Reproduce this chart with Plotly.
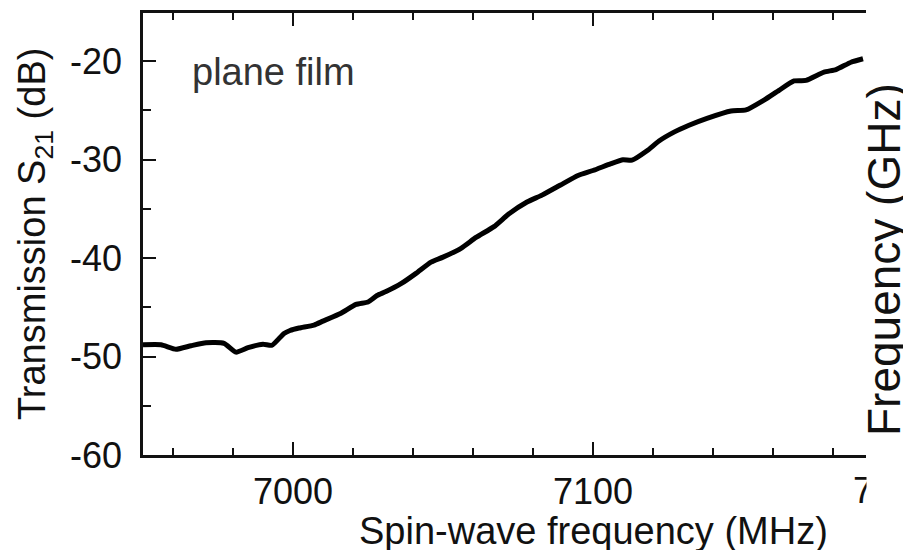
import plotly.graph_objects as go

# Spin-wave frequency (MHz)
freq = [6950, 6956, 6961, 6966, 6971, 6977, 6981, 6985, 6990, 6993, 6997, 6999,
        7002, 7007, 7010, 7016, 7021, 7025, 7028, 7031, 7036, 7041, 7046, 7050,
        7056, 7061, 7067, 7072, 7078, 7083, 7089, 7095, 7100, 7106, 7110, 7113,
        7118, 7122, 7127, 7132, 7138, 7146, 7151, 7157, 7162, 7167, 7171, 7177,
        7181, 7186, 7190]
# Transmission S21 (dB)
s21 = [-48.8, -48.8, -49.25, -48.9, -48.6, -48.65, -49.55, -49.1, -48.75, -48.85, -47.65, -47.35,
       -47.1, -46.8, -46.4, -45.6, -44.7, -44.45, -43.8, -43.4, -42.6, -41.55, -40.4, -39.9,
       -39.0, -37.9, -36.8, -35.5, -34.3, -33.6, -32.6, -31.6, -31.1, -30.4, -30.0, -30.05,
       -29.1, -28.1, -27.2, -26.5, -25.8, -25.05, -24.95, -23.95, -22.95, -22.0, -21.95, -21.1,
       -20.85, -20.1, -19.75]

x_ticks = [7000, 7100, 7200]
y_ticks = [-60, -50, -40, -30, -20]

FONT = "Liberation Sans, Arial, sans-serif"
INK = "#111111"

# page body adds an 8px offset; layout below is expressed in figure pixels
L, T, B = 135, 5, 447          # plot-area left / top / bottom (figure px)
W = 911 - L                    # plot-area width (r = 0)
H = B - T
CROP = 858                     # right crop edge of the panel (figure px)

def px(fx):
    return (fx - L) / W

def py(fy):
    return (B - fy) / H

fig = go.Figure()
fig.add_trace(go.Scatter(x=freq, y=s21, mode="lines",
                         line=dict(color="#000000", width=5, shape="spline", smoothing=0.5),
                         showlegend=False))

fig.update_layout(
    width=911, height=550,
    margin=dict(l=L, r=0, t=T, b=550 - B),
    paper_bgcolor="white", plot_bgcolor="white",
    font=dict(family=FONT, color=INK),
    xaxis=dict(
        range=[6950, 6950 + W / 3.0], tickmode="array", tickvals=x_ticks,
        ticktext=[str(v) for v in x_ticks],
        ticks="inside", ticklen=13, tickwidth=2, tickcolor=INK,
        showline=True, linewidth=2.5, linecolor=INK, mirror="ticks",
        showgrid=False, zeroline=False,
        tickfont=dict(size=36, color=INK, family=FONT),
        ticklabelstandoff=3,
        minor=dict(tickmode="linear", tick0=6960, dtick=20, ticks="inside",
                   ticklen=7, tickwidth=2, tickcolor=INK, showgrid=False),
    ),
    yaxis=dict(
        range=[-60, -15.1], tickmode="array", tickvals=y_ticks,
        ticktext=[str(v) for v in y_ticks],
        ticks="inside", ticklen=13, tickwidth=2, tickcolor=INK,
        showline=True, linewidth=2.5, linecolor=INK, mirror=False,
        showgrid=False, zeroline=False,
        tickfont=dict(size=36, color=INK, family=FONT),
        ticklabelstandoff=11,
        minor=dict(tickmode="linear", tick0=-55, dtick=10, ticks="inside",
                   ticklen=8, tickwidth=2, tickcolor=INK, showgrid=False),
    ),
    shapes=[dict(type="rect", xref="paper", yref="paper",
                 x0=px(CROP), x1=1.2, y0=-0.3, y1=1.1,
                 fillcolor="white", line=dict(width=0), layer="above")],
    annotations=[
        # last x tick label, partly cut by the panel crop
        dict(text=str(x_ticks[-1]), xref="x", yref="paper",
             x=x_ticks[-1], y=py(482), xanchor="center", yanchor="middle",
             showarrow=False, font=dict(size=36, color=INK, family=FONT)),
        dict(text=" ", xref="paper", yref="paper",
             x=px(CROP), y=py(462), xanchor="left", yanchor="top",
             width=70, height=50, bgcolor="white", borderpad=0,
             showarrow=False, font=dict(size=10)),
        dict(text="Spin-wave frequency (MHz)", xref="x", yref="paper",
             x=7100, y=py(523), xanchor="center", yanchor="middle",
             showarrow=False, font=dict(size=38, color=INK, family=FONT)),
        dict(text="Transmission S<sub>21</sub> (dB)", xref="paper", yref="paper",
             x=px(27), y=py(226), xanchor="center", yanchor="middle",
             textangle=-90, showarrow=False, font=dict(size=38, color=INK, family=FONT)),
        dict(text="plane film", xref="paper", yref="paper",
             x=px(182), y=py(64), xanchor="left", yanchor="middle",
             showarrow=False, font=dict(size=38, color="#333333", family=FONT)),
        dict(text="Frequency (GHz)", xref="paper", yref="paper",
             x=px(876), y=py(252), xanchor="center", yanchor="middle",
             textangle=-90, showarrow=False, font=dict(size=46, color=INK, family=FONT)),
    ],
)

fig.write_html("out.html")
